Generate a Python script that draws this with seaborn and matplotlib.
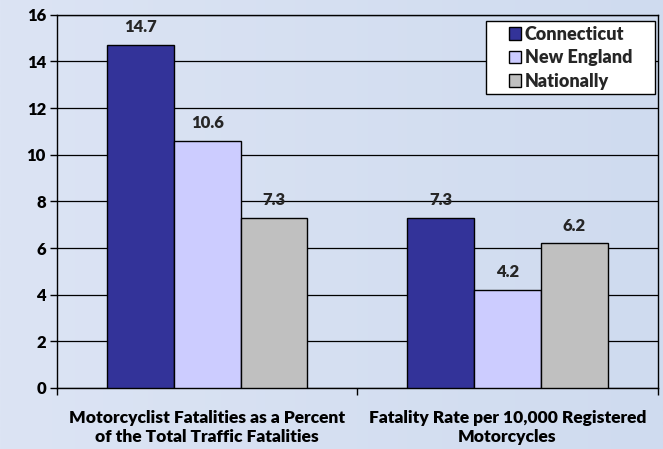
import numpy as np
import matplotlib
matplotlib.use("Agg")
import matplotlib.pyplot as plt
import seaborn as sns
import pandas as pd
from matplotlib.ticker import FixedLocator
from matplotlib.colors import LinearSegmentedColormap
from matplotlib.patches import Rectangle

categories = ["Motorcyclist Fatalities as a Percent\nof the Total Traffic Fatalities",
              "Fatality Rate per 10,000 Registered\nMotorcycles"]
regions = ["Connecticut", "New England", "Nationally"]
connecticut = [14.7, 7.3]
new_england = [10.6, 4.2]
nationally = [7.3, 6.2]
colors = ["#333399", "#ccccff", "#c0c0c0"]

df = pd.DataFrame({
    "category": categories * 3,
    "region": [r for r in regions for _ in categories],
    "value": connecticut + new_england + nationally,
})

sns.set_theme(style="white")
plt.rcParams["font.family"] = ["Lato", "DejaVu Sans"]
W = "heavy"

bg = "#d6e0f2"
fig = plt.figure(figsize=(6.63, 4.49), dpi=100, facecolor=bg)

# soft left-to-right background shading
bgax = fig.add_axes([0, 0, 1, 1], zorder=-5)
cmap = LinearSegmentedColormap.from_list("bg", ["#dce4f4", "#cfdbef"])
bgax.imshow(np.linspace(0, 1, 256)[None, :], aspect="auto", cmap=cmap,
            extent=[0, 1, 0, 1])
bgax.set_axis_off()

ax = fig.add_axes([0.086, 0.136, 0.906, 0.831])
ax.set_facecolor("none")

sns.barplot(data=df, x="category", y="value", hue="region", palette=colors,
            width=0.667, gap=0, edgecolor="black", linewidth=1, saturation=1,
            ax=ax, zorder=3)

for cont in ax.containers:
    txts = ax.bar_label(cont, fmt="%.1f", padding=7, fontsize=12, fontweight=W)
    for t in txts:
        t.set_zorder(10)

ax.set_ylim(0, 16)
ax.set_xlim(-0.5, 1.5)
ax.set_yticks(range(0, 17, 2))
ax.yaxis.grid(True, color="black", linewidth=0.9, zorder=0)
ax.set_axisbelow(True)
ax.set_xlabel("")
ax.set_ylabel("")
ax.tick_params(axis="y", left=True, length=5, width=1, color="black",
               labelsize=12, pad=3)
ax.tick_params(axis="x", which="major", bottom=False, labelsize=12.5, pad=10)
ax.xaxis.set_minor_locator(FixedLocator([-0.5, 0.5, 1.5]))
ax.tick_params(axis="x", which="minor", bottom=True, length=5, width=1,
               color="black")
for lab in ax.get_xticklabels() + ax.get_yticklabels():
    lab.set_fontweight(W)
    lab.set_color("black")
for lab in ax.get_xticklabels():
    lab.set_linespacing(1.25)
for sp in ax.spines.values():
    sp.set_color("black")
    sp.set_linewidth(1)

# legend box drawn separately to get the wide Excel-style padding
box = Rectangle((0.714, 0.788), 0.281, 0.196, transform=ax.transAxes,
                facecolor="white", edgecolor="black", linewidth=1, zorder=15)
ax.add_patch(box)
leg = ax.legend(loc="center", bbox_to_anchor=(0.855, 0.885), fontsize=13,
                frameon=False, handlelength=0.7, handleheight=0.7,
                handletextpad=0.2, labelspacing=0.35, borderpad=0,
                borderaxespad=0)
for t in leg.get_texts():
    t.set_fontweight(W)
leg.set_zorder(20)

fig.savefig("out.png", dpi=100, facecolor=bg)
